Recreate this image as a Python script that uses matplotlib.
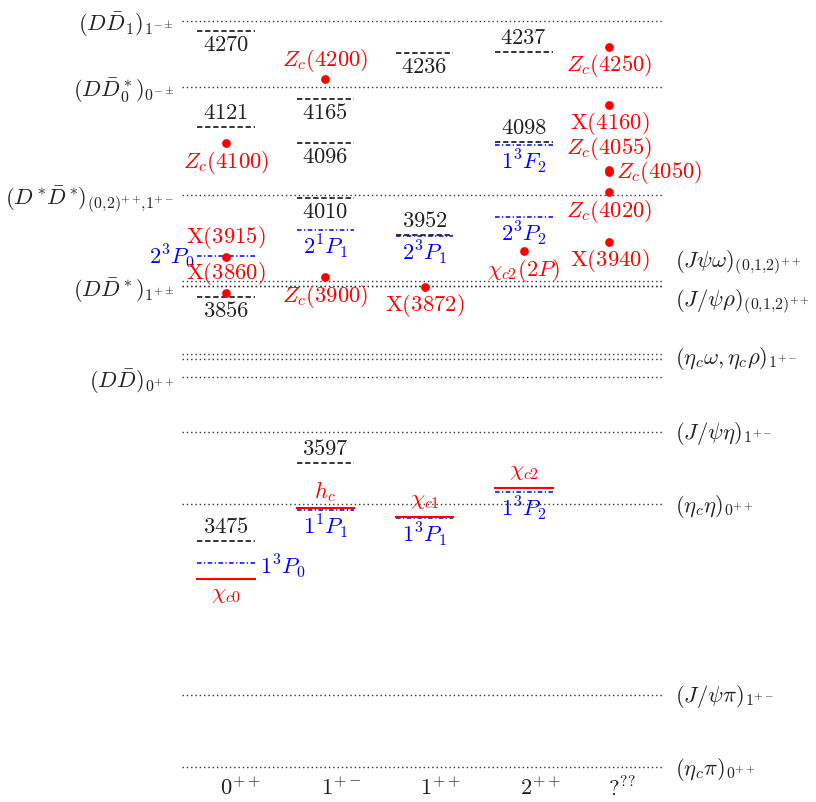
import matplotlib.pyplot as plt

plt.rcParams['mathtext.fontset'] = 'cm'
plt.rcParams['font.family'] = 'serif'

# thresholds (MeV)
left_thr_names = [r'(D\bar{D}_1)_{1^{-\pm}}', r'(D\bar{D}_0^*)_{0^{-\pm}}',
                  r'(D^*\!\bar{D}^*\!)_{(0{,}2)^{++}\!{,}1^{+-}}', r'(D\bar{D}^*)_{1^{+\pm}}',
                  r'(D\bar{D})_{0^{++}}']
left_thr_mass = [4286, 4183, 4014, 3872, 3730]

right_thr_mass = [3880, 3872, 3767, 3759, 3645, 3532, 3235, 3122]
right_lab_names = [r'(J\psi\omega)_{(0{,}1{,}2)^{++}}', r'(J/\psi\rho)_{(0{,}1{,}2)^{++}}',
                   r'(\eta_c\omega,\eta_c\rho)_{1^{+-}}', r'(J/\psi\eta)_{1^{+-}}',
                   r'(\eta_c\eta)_{0^{++}}', r'(J/\psi\pi)_{1^{+-}}',
                   r'(\eta_c\pi)_{0^{++}}']
right_lab_mass = [3880, 3872, 3763, 3645, 3532, 3235, 3122]
right_lab_dy = [19, -15, -2, -2, -2, -2, -2]   # px

# predicted levels (black dashed)
pred_col = [0, 0, 0, 0, 1, 1, 1, 1, 2, 2, 3, 3]
pred_mass = [4270, 4121, 3856, 3475, 4165, 4096, 4010, 3597, 4236, 3952, 4237, 4098]
pred_side = ['b', 'a', 'b', 'a', 'b', 'b', 'b', 'a', 'b', 'a', 'a', 'a']

# quark model levels (blue dash-dot)
qm_col = [0, 0, 1, 1, 2, 2, 3, 3, 3]
qm_mass = [3919, 3441, 3960, 3523, 3950, 3510, 4092, 3980, 3552]
qm_names = [r'2^3P_0', r'1^3P_0', r'2^1P_1', r'1^1P_1', r'2^3P_1', r'1^3P_1',
            r'1^3F_2', r'2^3P_2', r'1^3P_2']
qm_side = ['l', 'r', 'b', 'b', 'b', 'b', 'b', 'b', 'b']

# experimental levels (red solid)
exp_col = [0, 1, 2, 3]
exp_mass = [3415, 3526, 3512, 3557]
exp_names = [r'\chi_{c0}', r'h_c', r'\chi_{c1}', r'\chi_{c2}']
exp_side = ['b', 'a', 'a', 'a']

# experimental states (red points)
pt_col = [0, 0, 0, 1, 1, 2, 3, 3.86, 3.86, 3.86, 3.86, 3.86, 3.86]
pt_mass = [4095, 3918, 3862, 4195, 3886, 3871.5, 3927, 4246, 4155, 4053, 4051, 4019, 3942]
pt_names = [r'Z_c(4100)', r'\mathrm{X}(3915)', r'\mathrm{X}(3860)', r'Z_c(4200)',
            r'Z_c(3900)', r'\mathrm{X}(3872)', r'\chi_{c2}(2P)', r'Z_c(4250)',
            r'\mathrm{X}(4160)', r'Z_c(4055)', r'Z_c(4050)', r'Z_c(4020)',
            r'\mathrm{X}(3940)']
pt_side = ['b', 'a', 'a', 'a', 'b', 'b', 'b', 'b', 'b', 'A', 'r', 'b', 'b']

tick_pos = [0.15, 1.16, 2.16, 3.17, 3.99]
tick_labels = [r'0^{++}', r'1^{+-}', r'1^{++}', r'2^{++}', r'?^{??}']

PX = 0.72  # points per pixel
HW = 0.29
FS = 16.3
XL, XR = -0.443, 4.41

fig = plt.figure(figsize=(8.16, 8.02), dpi=100)
ax = fig.add_axes([0, 0, 1, 1])
ax.set_xlim(-226 / 99.3, (816 - 226) / 99.3)
ax.set_ylim(3067.6, 4318.8)
ax.axis('off')

dots = dict(color='#333333', lw=1.0, dashes=(1, 2.1))
for m in left_thr_mass + right_thr_mass:
    ax.plot([XL, XR], [m, m], **dots)

for name, m in zip(left_thr_names, left_thr_mass):
    ax.annotate('$' + name + '$', (XL, m), xytext=(-8 * PX, -4 * PX),
                textcoords='offset points', ha='right', va='center',
                fontsize=FS, color='#222222')
for name, m, dy in zip(right_lab_names, right_lab_mass, right_lab_dy):
    ax.annotate('$' + name + '$', (XR, m), xytext=(11 * PX, dy * PX),
                textcoords='offset points', ha='left', va='center',
                fontsize=FS, color='#222222')

for c, m, s in zip(pred_col, pred_mass, pred_side):
    ax.plot([c - HW, c + HW], [m, m], color='black', lw=1.1, dashes=(3.5, 1.8))
    dy = 14 if s == 'a' else -14
    ax.annotate('$%d$' % m, (c, m), xytext=(0, dy * PX), textcoords='offset points',
                ha='center', va='center', fontsize=FS, color='#222222')

for c, m, n, s in zip(qm_col, qm_mass, qm_names, qm_side):
    ax.plot([c - HW, c + HW], [m, m], color='blue', lw=1.1, dashes=(3, 1.6, 0.8, 1.6))
    if s == 'l':
        xy, off, ha = (c - HW, m), (-3 * PX, -1 * PX), 'right'
    elif s == 'r':
        xy, off, ha = (c + HW, m), (5 * PX, -4 * PX), 'left'
    else:
        xy, off, ha = (c, m), (0, -17 * PX), 'center'
    ax.annotate('$' + n + '$', xy, xytext=off, textcoords='offset points',
                ha=ha, va='center', fontsize=FS, color='blue')

for c, m, n, s in zip(exp_col, exp_mass, exp_names, exp_side):
    ax.plot([c - HW, c + HW], [m, m], color='red', lw=1.5)
    dy = 17 if s == 'a' else -15
    ax.annotate('$' + n + '$', (c, m), xytext=(0, dy * PX), textcoords='offset points',
                ha='center', va='center', fontsize=FS, color='red')

ax.plot(pt_col, pt_mass, 'o', color='red', ms=6.3, mec='none')
for c, m, n, s in zip(pt_col, pt_mass, pt_names, pt_side):
    if s == 'r':
        off, ha = (7 * PX, -1 * PX), 'left'
    elif s == 'A':
        off, ha = (0, 22 * PX), 'center'
    else:
        off, ha = (0, (19 if s == 'a' else -19) * PX), 'center'
    ax.annotate('$' + n + '$', (c, m), xytext=off, textcoords='offset points',
                ha=ha, va='center', fontsize=FS, color='red')

for x, t in zip(tick_pos, tick_labels):
    ax.text(x, 0.016, '$' + t + '$', transform=ax.get_xaxis_transform(),
            ha='center', va='center', fontsize=FS, color='#222222')

fig.savefig('out.png', dpi=100)
